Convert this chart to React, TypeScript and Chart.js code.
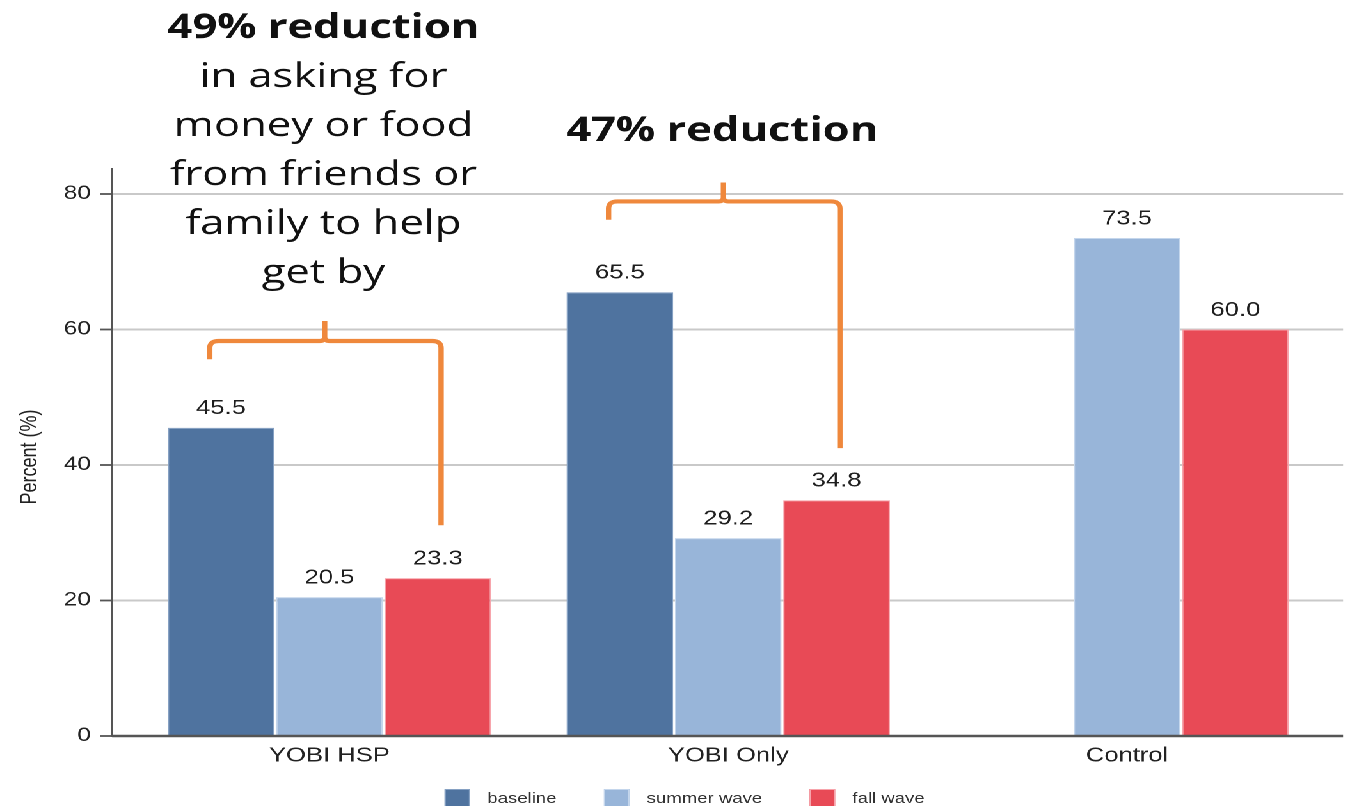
import React, { useEffect, useRef } from "react";
import { Chart, registerables } from "chart.js";

Chart.register(...registerables);

// ---------- data ----------
const categories = ["YOBI HSP", "YOBI Only", "Control"];
const seriesNames = ["baseline", "summer wave", "fall wave"];
const baselineValues: (number | null)[] = [45.5, 65.5, null];
const summerValues: (number | null)[] = [20.5, 29.2, 73.5];
const fallValues: (number | null)[] = [23.3, 34.8, 60.0];
const yTickValues = [0, 20, 40, 60, 80];
const yAxisTitle = "Percent (%)";

const noteLines1 = ["49% reduction", "in asking for", "money or food", "from friends or", "family to help", "get by"];
const noteLines2 = ["47% reduction"];

// bracket geometry in data units (category index + value)
const bracketCategories = [0, 1];
const bracketTops = [58.3, 78.9];
const bracketLeftEnds = [55.6, 76.2];
const bracketNotchTops = [61.25, 81.7];
const bracketRightEnds = [31.1, 42.5];

// ---------- styles ----------
const S = 1350 / 1055; // horizontal stretch of the reference
const W = 1055;
const H = 806;
const seriesColors = ["#4f739f", "#98b5d9", "#e84a56"];
const seriesBorders = ["#86a1c3", "#c4d6ec", "#f7a5ac"];
const ORANGE = "#ef883c";
const SANS = "'Liberation Sans', Arial, Helvetica, sans-serif";
const NOTE_FONT = "'Open Sans', 'Noto Sans', sans-serif";

const decorPlugin = {
  id: "decor",
  beforeDatasetsDraw(chart: any) {
    const { ctx, chartArea } = chart;
    const y = chart.scales.y;
    const axisX = chartArea.left - 14;
    const rightX = chartArea.right + 13;
    ctx.save();
    ctx.strokeStyle = "#c9c9c9";
    ctx.lineWidth = 2;
    for (const v of yTickValues) {
      if (v === 0) continue;
      const py = y.getPixelForValue(v);
      ctx.beginPath();
      ctx.moveTo(axisX, py);
      ctx.lineTo(rightX, py);
      ctx.stroke();
    }
    ctx.restore();
  },
  afterDatasetsDraw(chart: any) {
    const { ctx, chartArea } = chart;
    const y = chart.scales.y;
    const x = chart.scales.x;
    const axisX = chartArea.left - 14;
    const rightX = chartArea.right + 13;
    ctx.save();
    // axes
    ctx.strokeStyle = "#555";
    ctx.lineWidth = 1.8;
    ctx.beginPath();
    ctx.moveTo(axisX, chartArea.top - 26);
    ctx.lineTo(axisX, chartArea.bottom + 1);
    ctx.stroke();
    for (const v of yTickValues) {
      const py = y.getPixelForValue(v);
      ctx.beginPath();
      ctx.moveTo(axisX - 9.5, py);
      ctx.lineTo(axisX, py);
      ctx.stroke();
    }
    ctx.lineWidth = 2.5;
    ctx.beginPath();
    ctx.moveTo(axisX, chartArea.bottom);
    ctx.lineTo(rightX, chartArea.bottom);
    ctx.stroke();

    // value labels
    ctx.fillStyle = "#1e1e1e";
    ctx.font = `20px ${SANS}`;
    ctx.textAlign = "center";
    ctx.textBaseline = "alphabetic";
    chart.data.datasets.forEach((ds: any, di: number) => {
      const meta = chart.getDatasetMeta(di);
      meta.data.forEach((el: any, i: number) => {
        const v = ds.data[i];
        if (v === null || v === undefined) return;
        ctx.fillText(Number(v).toFixed(1), el.x, el.y - 13.5);
      });
    });

    // brackets
    const slot = x.width / categories.length;
    ctx.strokeStyle = ORANGE;
    ctx.lineWidth = 4.2;
    ctx.lineJoin = "round";
    bracketCategories.forEach((c, i) => {
      const cx = x.getPixelForValue(c);
      const xl = cx - 0.3 * slot;
      const xr = cx + 0.28 * slot;
      const xn = cx - 0.012 * slot;
      const yt = y.getPixelForValue(bracketTops[i]);
      const yl = y.getPixelForValue(bracketLeftEnds[i]);
      const yn = y.getPixelForValue(bracketNotchTops[i]);
      const yr = y.getPixelForValue(bracketRightEnds[i]);
      const r = 7;
      const r2 = 4;
      ctx.beginPath();
      ctx.moveTo(xl, yl);
      ctx.lineTo(xl, yt + r);
      ctx.quadraticCurveTo(xl, yt, xl + r, yt);
      ctx.lineTo(xn - r2, yt);
      ctx.quadraticCurveTo(xn, yt, xn, yt - r2);
      ctx.lineTo(xn, yn);
      ctx.moveTo(xn, yt - r2);
      ctx.quadraticCurveTo(xn, yt, xn + r2, yt);
      ctx.lineTo(xr - r, yt);
      ctx.quadraticCurveTo(xr, yt, xr, yt + r);
      ctx.lineTo(xr, yr);
      ctx.stroke();
    });

    // annotation text
    ctx.fillStyle = "#111";
    ctx.textAlign = "center";
    ctx.textBaseline = "alphabetic";
    const drawNote = (lines: string[], c: number, firstBaseline: number) => {
      const cx = x.getPixelForValue(c) - 0.015 * slot;
      lines.forEach((t, i) => {
        ctx.font = `${i === 0 ? "bold " : ""}34px ${NOTE_FONT}`;
        ctx.fillText(t, cx, firstBaseline + i * 49);
      });
    };
    drawNote(noteLines1, 0, 38);
    drawNote(noteLines2, 1, 141);

    // y-axis title
    ctx.save();
    ctx.translate(23.5, (chartArea.top + chartArea.bottom) / 2 - 8);
    ctx.rotate(-Math.PI / 2);
    ctx.font = `18px ${SANS}`;
    ctx.fillStyle = "#222";
    ctx.textAlign = "center";
    ctx.textBaseline = "middle";
    ctx.fillText(yAxisTitle, 0, 0);
    ctx.restore();

    // legend
    ctx.font = `14.5px ${SANS}`;
    const box = 20;
    const gapBT = 13.5;
    const gapItem = 37;
    const widths = seriesNames.map((n) => ctx.measureText(n).width);
    const total = widths.reduce((a, w) => a + box + gapBT + w, 0) + gapItem * (seriesNames.length - 1);
    let lx = 535 - total / 2;
    const ly = 789;
    seriesNames.forEach((n, i) => {
      ctx.fillStyle = seriesColors[i];
      ctx.fillRect(lx, ly, box, 22);
      ctx.strokeStyle = seriesBorders[i];
      ctx.lineWidth = 1;
      ctx.strokeRect(lx + 0.5, ly + 0.5, box - 1, 22);
      ctx.fillStyle = "#333";
      ctx.textAlign = "left";
      ctx.textBaseline = "middle";
      ctx.fillText(n, lx + box + gapBT, 799);
      lx += box + gapBT + widths[i] + gapItem;
    });
    ctx.restore();
  },
};

export default function App() {
  const ref = useRef<HTMLCanvasElement>(null);
  useEffect(() => {
    const canvas = ref.current;
    if (!canvas) return;
    const values = [baselineValues, summerValues, fallValues];
    const chart = new Chart(canvas, {
      type: "bar",
      data: {
        labels: categories,
        datasets: seriesNames.map((name, i) => ({
          label: name,
          data: values[i],
          backgroundColor: seriesColors[i],
          borderColor: seriesBorders[i],
          borderWidth: 1,
          categoryPercentage: 0.815,
          barPercentage: 0.985,
        })),
      },
      options: {
        responsive: false,
        animation: false,
        devicePixelRatio: 2,
        layout: { padding: { top: 194, left: 0, right: 18.4, bottom: 0 } },
        plugins: {
          legend: { display: false },
          tooltip: { enabled: false },
        },
        scales: {
          x: {
            grid: { display: false, drawTicks: false },
            border: { display: false },
            ticks: {
              color: "#222",
              font: { family: SANS, size: 20 },
              padding: 8,
            },
            afterFit: (s: any) => {
              s.height = 70;
            },
          },
          y: {
            min: 0,
            max: 80,
            grid: { display: false, drawTicks: false },
            border: { display: false },
            ticks: {
              stepSize: 20,
              color: "#222",
              font: { family: SANS, size: 19 },
              padding: 30.6,
            },
            afterFit: (s: any) => {
              s.width = 101.6;
            },
          },
        },
      },
      plugins: [decorPlugin],
    } as any);
    return () => chart.destroy();
  }, []);
  return (
    <div
      style={{
        position: "absolute",
        left: 0,
        top: 0,
        width: W,
        height: H,
        overflow: "hidden",
        background: "#fff",
        transform: `scaleX(${S})`,
        transformOrigin: "0 0",
      }}
    >
      <canvas ref={ref} width={W} height={H} style={{ display: "block", width: W, height: H }} />
    </div>
  );
}
